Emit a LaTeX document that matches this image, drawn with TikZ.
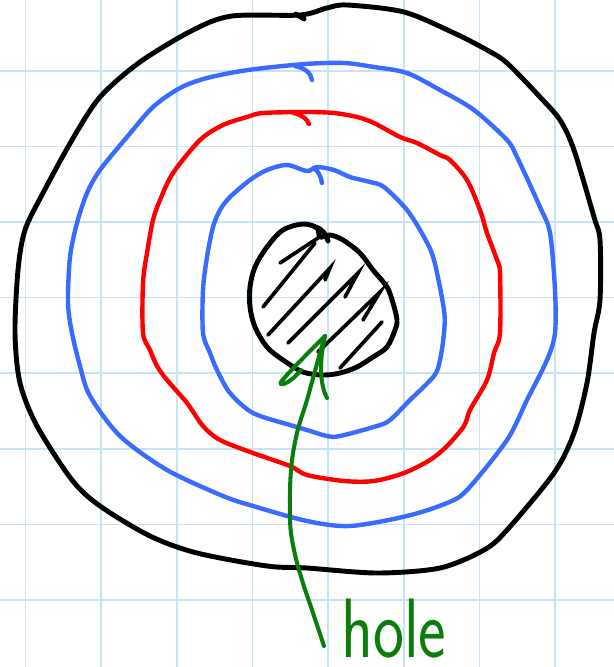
\documentclass[tikz,border=0pt]{standalone}
\usepackage{fontspec}
\usepackage{tikz}
\definecolor{gridblue}{HTML}{C8E4F4}
\definecolor{penblue}{HTML}{3A6BFF}
\definecolor{penred}{HTML}{FF0000}
\definecolor{pengreen}{HTML}{0A7D0A}

\tikzset{
  gridline/.style={gridblue, line width=1pt},
  blackpen/.style={black, line width=2.8pt, line cap=round, line join=round},
  bluepen/.style={penblue, line width=2.5pt, line cap=round, line join=round},
  redpen/.style={penred, line width=2.5pt, line cap=round, line join=round},
  greenpen/.style={pengreen, line width=2.3pt, line cap=round, line join=round},
  hatchpen/.style={black, line width=2.1pt, line cap=round},
}

\begin{document}
\begin{tikzpicture}[x=0.02cm, y=-0.02cm]
    \useasboundingbox (0,0) rectangle (614,667);
    \fill[white] (0,0) rectangle (614,667);
    \foreach \i in {0,...,7}
      \draw[gridline] ({25.5+75.65*\i},0) -- ({25.5+75.65*\i},667);
    \foreach \j in {0,...,7}
      \draw[gridline] (0,{70.8+75.6*\j}) -- (614,{70.8+75.6*\j});

    % outer black ring
    \draw[blackpen] plot[smooth cycle, tension=0.5] coordinates {
      (300,15) (232,16) (193,30) (140,62) (100,97) (72,140) (43,193) (25,230)
      (18,270) (15,333) (20,383) (37,426) (72,480) (100,506) (150,536) (197,553)
      (267,566) (307,568) (377,573) (440,568) (484,550) (507,530) (554,473)
      (574,433) (587,383) (594,333) (600,300) (600,240) (594,217) (574,150)
      (560,120) (540,97) (507,63) (487,50) (454,33) (404,12) (347,5) (327,8)};
    \draw[blackpen] (296,14) -- (304,19);

    % blue rings
    \draw[bluepen] plot[smooth cycle, tension=0.5] coordinates {
      (305,64) (248,70) (207,78) (180,88) (153,107) (127,137) (100,170) (87,193)
      (77,223) (70,257) (68,303) (72,333) (80,366) (90,396) (120,436) (167,470)
      (223,496) (253,506) (307,521) (350,526) (407,516) (447,503) (467,490)
      (507,440) (527,400) (547,360) (555,333) (555,290) (550,233) (540,207)
      (517,157) (507,140) (474,110) (440,90) (407,73) (374,67) (344,63)};
    \draw[bluepen] (295,66) .. controls (305,68) and (311,73) .. (312,80);

    \draw[bluepen] plot[smooth cycle, tension=0.5] coordinates {
      (307,171) (287,165) (267,170) (250,180) (230,197) (220,210) (213,227)
      (207,257) (203,290) (203,333) (210,353) (217,370) (230,393) (253,413)
      (290,425) (307,430) (327,436) (340,436) (377,426) (390,420) (410,400)
      (434,376) (440,360) (444,333) (444,310) (434,260) (424,237) (407,210)
      (384,187) (370,182) (350,177) (334,170) (317,167)};
    \draw[bluepen] (314,168) .. controls (319,172) and (321,177) .. (322,183);

    % red ring
    \draw[redpen] plot[smooth cycle, tension=0.5] coordinates {
      (307,112) (263,113) (247,117) (223,125) (200,140) (173,173) (160,200)
      (153,220) (147,253) (143,283) (143,333) (150,350) (157,366) (167,380)
      (187,403) (203,426) (220,440) (253,453) (290,466) (307,475) (344,481)
      (374,481) (404,473) (430,460) (447,446) (464,426) (470,410) (487,380)
      (494,353) (500,333) (500,273) (497,260) (487,233) (480,210) (467,180)
      (450,160) (440,155) (417,143) (400,137) (374,123) (357,117) (334,113)};
    \draw[redpen] (294,113) .. controls (302,115) and (307,119) .. (309,124);

    % the hole
    \draw[blackpen] plot[smooth cycle, tension=0.55] coordinates {
      (317,228) (303,224) (283,230) (267,247) (255,267) (250,287) (250,307)
      (255,327) (267,347) (283,360) (303,372) (323,375) (340,373) (357,367)
      (373,357) (387,347) (395,330) (397,320) (393,303) (387,287) (373,270)
      (360,253) (343,240) (330,235) (320,237)};
    \draw[blackpen] (316,227) .. controls (322,229) and (326,234) .. (328,241);
    \draw[hatchpen] (263,307) -- (315,243);
    \draw[hatchpen] (280,263) -- (318,238);
    \draw[hatchpen] (268,335) -- (330,268) -- (325,280);
    \draw[hatchpen] (288,343) -- (358,273) -- (345,297);
    \draw[hatchpen] (318,352) -- (380,292) -- (363,320);
    \draw[hatchpen] (340,368) -- (382,322);

    % arrow to the label
    \coordinate (tip) at (325,336);
    \coordinate (tail) at (324,646);
    \draw[greenpen] plot[smooth, tension=0.6] coordinates {
      (tail) (312,610) (302,580) (294,550) (290,520) (291,470) (297,433)
      (307,400) (318,360) (tip)};
    \draw[greenpen] (tip) .. controls (305,356) and (287,374) .. (281,382)
      .. controls (278,387) and (290,384) .. (301,370);
    \draw[greenpen] (tip) .. controls (319,362) and (320,385) .. (327,398);

    \node[pengreen, anchor=base, inner sep=0pt] (hole) at (394,657)
      {\scalebox{0.78}[1]{\fontsize{48}{48}\selectfont\sffamily hole}};
\end{tikzpicture}
\end{document}
